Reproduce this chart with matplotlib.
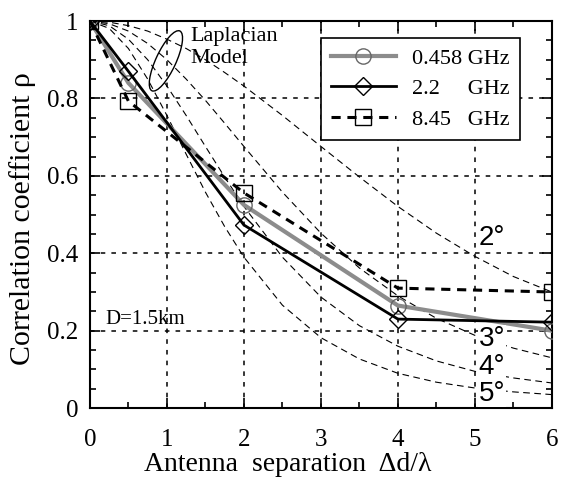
import matplotlib
matplotlib.use("Agg")
import matplotlib.pyplot as plt
from matplotlib.patches import Ellipse
from matplotlib.transforms import IdentityTransform
from matplotlib.ticker import MultipleLocator, FuncFormatter

# Measured data
x_meas = [0, 0.5, 2, 4, 6]
rho_0458 = [1.0, 0.84, 0.525, 0.265, 0.20]
rho_22 = [1.0, 0.87, 0.473, 0.23, 0.222]
rho_845 = [1.0, 0.793, 0.556, 0.31, 0.30]
series_labels = ["0.458 GHz", "2.2\u2007\u2007 GHz", "8.45\u2007 GHz"]

# Laplacian model curves
x_lap = [0, 0.25, 0.5, 0.75, 1, 1.25, 1.5, 1.75, 2, 2.5, 3, 3.5, 4, 4.5, 5, 5.5, 6]
lap_2 = [1.0, 0.997, 0.988, 0.974, 0.953, 0.929, 0.900, 0.867, 0.832, 0.756, 0.676, 0.597, 0.521, 0.452, 0.392, 0.340, 0.300]
lap_3 = [1.0, 0.993, 0.974, 0.942, 0.900, 0.850, 0.795, 0.736, 0.676, 0.558, 0.452, 0.362, 0.290, 0.232, 0.188, 0.155, 0.130]
lap_4 = [1.0, 0.988, 0.953, 0.900, 0.832, 0.756, 0.676, 0.597, 0.521, 0.390, 0.287, 0.213, 0.160, 0.122, 0.095, 0.078, 0.065]
lap_5 = [1.0, 0.981, 0.929, 0.850, 0.756, 0.656, 0.558, 0.469, 0.390, 0.266, 0.182, 0.127, 0.090, 0.067, 0.052, 0.042, 0.035]
lap_labels = ["2°", "3°", "4°", "5°"]
lap_label_pos = [(5.05, 0.405), (5.05, 0.145), (5.05, 0.072), (5.05, 0.004)]

fig = plt.figure(figsize=(5.62, 4.83), dpi=100)
ax = fig.add_axes([0.160, 0.155, 0.822, 0.8015])
serif = "Liberation Serif"

for ys in (lap_2, lap_3, lap_4, lap_5):
    ax.plot(x_lap, ys, color="black", lw=0.8, ls=(0, (6, 4)), zorder=2)

ax.plot(x_meas, rho_0458, color="0.55", lw=3.0, marker="o", ms=11,
        mfc="none", mec="0.4", mew=1.0, zorder=3, label=series_labels[0])
ax.plot(x_meas, rho_22, color="black", lw=2.0, marker="D", ms=9,
        mfc="none", mec="black", mew=1.0, zorder=4, label=series_labels[1])
ax.plot(x_meas, rho_845, color="black", lw=2.2, ls=(0, (3, 2.2)), marker="s", ms=11,
        mfc="none", mec="black", mew=1.0, zorder=4, label=series_labels[2])

for lab, (lx, ly) in zip(lap_labels, lap_label_pos):
    ax.text(lx, ly, lab, fontsize=20, family="Liberation Sans", ha="left", va="bottom", zorder=5,
            bbox=dict(boxstyle="square,pad=0.02", fc="white", ec="none"))

ax.set_xlim(0, 6)
ax.set_ylim(0, 1)
ax.xaxis.set_major_locator(MultipleLocator(1))
ax.xaxis.set_minor_locator(MultipleLocator(0.5))
ax.yaxis.set_major_locator(MultipleLocator(0.2))
ax.yaxis.set_minor_locator(MultipleLocator(0.05))
ax.yaxis.set_major_formatter(FuncFormatter(lambda v, p: "0" if abs(v) < 1e-9 else ("1" if abs(v-1) < 1e-9 else f"{v:.1f}")))
ax.tick_params(which="both", direction="in", top=True, right=True, width=1.2)
ax.tick_params(which="major", length=7, labelsize=18)
ax.tick_params(axis="x", which="major", pad=15)
ax.tick_params(axis="y", which="major", pad=8.5)
ax.tick_params(which="minor", length=4)
for lab in ax.get_xticklabels() + ax.get_yticklabels():
    lab.set_family(serif)
for s in ax.spines.values():
    s.set_linewidth(1.5)
ax.grid(True, which="major", color="black", ls=(0, (3, 4)), lw=1.1)

ax.set_xlabel("Antenna  separation  Δd/λ", fontsize=20, family=serif, labelpad=1, x=0.4286)
ax.set_ylabel("Correlation coefficient ρ", fontsize=21.5, family=serif, labelpad=8, y=0.49)

leg = ax.legend(loc="upper right", bbox_to_anchor=(0.931, 0.956),
                prop={"family": [serif, "DejaVu Serif"], "size": 16},
                frameon=True, fancybox=False, edgecolor="black", framealpha=1,
                handlelength=2.9, borderpad=0.45, labelspacing=0.45, handletextpad=0.75,
                borderaxespad=0)
leg.get_frame().set_linewidth(1.2)

ax.text(1.30, 0.985, "Laplacian\nModel", fontsize=16, family=serif, ha="left", va="top", linespacing=1.2)
ax.text(0.2, 0.23, "D=1.5km", fontsize=15, family=serif, ha="left", va="center")

fig.canvas.draw()
cx, cy = ax.transData.transform((0.987, 0.897))
ell = Ellipse((cx, cy), width=66, height=20, angle=65, transform=IdentityTransform(),
              fill=False, ec="black", lw=1.0, zorder=6)
fig.add_artist(ell)

fig.savefig("out.png", dpi=100)
